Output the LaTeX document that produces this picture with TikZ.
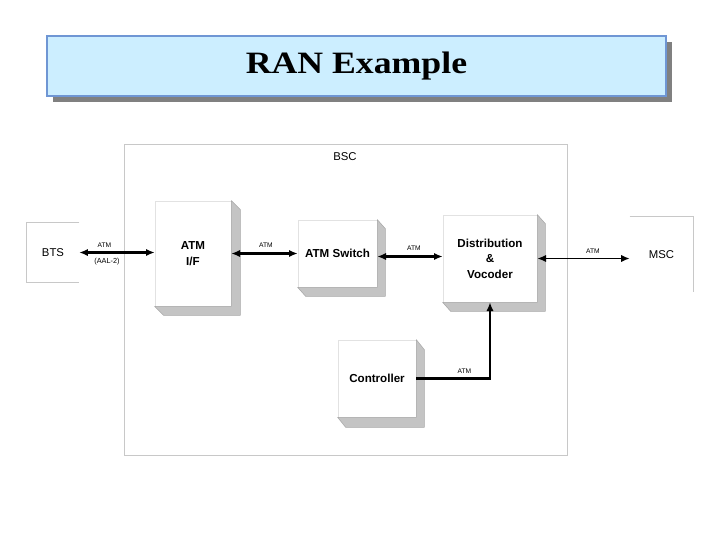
\documentclass[tikz,border=0pt]{standalone}
\usepackage{fontspec}
\setmainfont{Liberation Serif}
\newfontfamily\arialf{Liberation Sans}
\usetikzlibrary{arrows.meta,calc,shadows}
\definecolor{titlefill}{HTML}{CCEEFF}
\definecolor{titleedge}{HTML}{6F96D4}
\definecolor{titleshadow}{HTML}{808080}
\definecolor{sidegray}{HTML}{C4C4C4}
\definecolor{sideedge}{HTML}{A8A8A8}
\definecolor{framegray}{HTML}{C8C8C8}
\definecolor{faceedge}{HTML}{E2E2E2}
\newcommand\mkextrude[3]{\filldraw[fill=sidegray, draw=sideedge, line width=0.4pt, line join=round] (#1.north east) -- ++(#2,#3) -- ($(#1.south east)+(#2,#3)$) -- ($(#1.south west)+(#2,#3)$) -- (#1.south west) -- (#1.south east) -- cycle;}
\begin{document}
\begin{tikzpicture}[x=0.75pt,y=-0.75pt,
  every node/.style={inner sep=0pt},
  face/.style={draw=faceedge, line width=0.5pt, fill=white, font=\arialf\bfseries\fontsize{8.7}{11.6}\selectfont, align=center},
  plain/.style={font=\arialf\fontsize{8.5}{10}\selectfont},
  lbl/.style={font=\arialf\fontsize{5}{6}\selectfont},
  arr/.style={line width=1.6pt, {Latex[length=6.5pt,width=5.5pt]}-{Latex[length=6.5pt,width=5.5pt]}},
  arrone/.style={line width=1.6pt, -{Latex[length=6.5pt,width=5.5pt]}},
  edge/.style={draw=framegray, line width=0.6pt}]
\useasboundingbox (0,0) rectangle (720,540);
\fill[white] (0,0) rectangle (720,540);
% title
\node[draw=titleedge, line width=1.5pt, fill=titlefill, minimum width=464.25pt, minimum height=45pt,
  general shadow={fill=titleshadow, shadow xshift=4.5pt, shadow yshift=-4.5pt}] (title) at (356.5,66)
  {\fontsize{23.3}{28}\selectfont\bfseries\scalebox{1.15}[1]{RAN Example}};
% BSC frame
\node[draw=framegray, line width=0.6pt, minimum width=332.25pt, minimum height=233.25pt] (bsc) at (345.5,299.5) {};
\node[plain] (bsclabel) at (345,157) {BSC};
% blocks
\node[face, minimum width=57pt, minimum height=78.75pt] (atmif) at (193,253.5) {ATM\\I/F};
\node[face, minimum width=59.25pt, minimum height=50.25pt] (atmsw) at (337.5,253.5) {ATM Switch};
\node[face, minimum width=70.5pt, minimum height=65.25pt] (dist) at (490,258.5) {Distribution\\\&\\Vocoder};
\node[face, minimum width=58.5pt, minimum height=57.75pt] (ctrl) at (377,378.5) {Controller};
\mkextrude{atmif}{9}{9}
\mkextrude{atmsw}{8}{9}
\mkextrude{dist}{8}{9}
\mkextrude{ctrl}{8}{10}
% BTS, MSC
\node[plain, minimum width=39pt, minimum height=44.25pt] (bts) at (53,252.5) {BTS};
\draw[edge] (bts.north east) -| (bts.south west) -- (bts.south east);
\node[plain, minimum width=47.25pt, minimum height=56.25pt] (msc) at (661.5,254.5) {MSC};
\draw[edge] (msc.north west) -- (msc.north east) -- (msc.south east);
% connectors
\draw[arr] (bts.east) -- (bts.east -| atmif.west);
\draw[arr] (atmif.east) -- (atmsw.west);
\coordinate (s3) at ($(atmsw.east)+(0,3)$);
\draw[arr] (s3) -- (s3 -| dist.west);
\draw[arr, line width=1.2pt] (dist.east) -- (dist.east -| msc.west);
\draw[arrone] (ctrl.east) -| (dist.south);
% labels
\node[lbl] (l1) at (104.5,245) {ATM};
\node[lbl, font=\arialf\fontsize{5.5}{6}\selectfont] (l1b) at (107,261.5) {(AAL-2)};
\node[lbl] (l2) at (266,245) {ATM};
\node[lbl] (l3) at (414,248) {ATM};
\node[lbl] (l4) at (593,251.5) {ATM};
\node[lbl] (l5) at (464.5,371) {ATM};
\end{tikzpicture}
\end{document}
